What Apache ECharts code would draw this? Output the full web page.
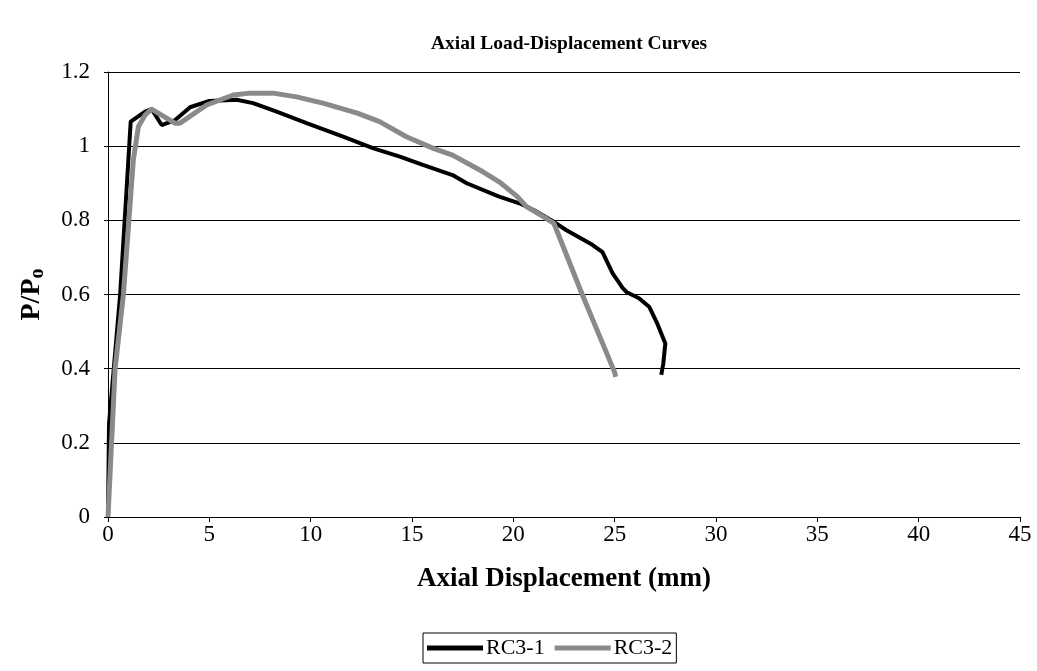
<!DOCTYPE html>
<html>
<head>
<meta charset="utf-8">
<script src="https://cdn.jsdelivr.net/npm/echarts@6/dist/echarts.min.js"></script>
<style>
  html, body { margin: 0; padding: 0; background: #fff; }
  #chart { width: 1037px; height: 671px; }
</style>
</head>
<body>
<div id="chart"></div>
<script>
// RC3-1 (black) displacement (mm) and P/Po
var rc31X = [0, 0.05, 0.6, 1.12, 1.83, 2.15, 2.65, 3.3, 4.05, 5.0, 6.35, 7.16, 8.32, 9.8, 11.6, 13.1, 14.4, 15.5, 17.0, 17.7, 19.3, 20.3, 21.0, 22.0, 22.6, 23.9, 24.4, 24.9, 25.4, 25.6, 26.2, 26.7, 27.1, 27.5, 27.4, 27.3];
var rc31Y = [0, 0.25, 0.6, 1.066, 1.093, 1.1, 1.057, 1.07, 1.105, 1.122, 1.125, 1.116, 1.093, 1.062, 1.026, 0.994, 0.972, 0.95, 0.922, 0.9, 0.864, 0.846, 0.828, 0.796, 0.774, 0.734, 0.714, 0.657, 0.617, 0.606, 0.59, 0.567, 0.522, 0.468, 0.414, 0.383];

// RC3-2 (grey)
var rc32X = [0, 0.35, 0.76, 1.25, 1.5, 1.83, 2.15, 3.3, 3.55, 4.87, 6.18, 7.0, 8.15, 9.3, 10.6, 12.3, 13.4, 14.7, 16.05, 17.0, 18.5, 19.3, 20.2, 20.65, 21.6, 22.0, 23.4, 25.0, 25.05];
var rc32Y = [0, 0.4, 0.6, 0.963, 1.053, 1.084, 1.1, 1.062, 1.062, 1.111, 1.138, 1.143, 1.143, 1.133, 1.116, 1.089, 1.066, 1.026, 0.994, 0.976, 0.931, 0.904, 0.864, 0.837, 0.806, 0.792, 0.6, 0.39, 0.378];

var xTicks = [0, 5, 10, 15, 20, 25, 30, 35, 40, 45];
var yTicks = [0, 0.2, 0.4, 0.6, 0.8, 1, 1.2];

function zip(xs, ys) {
    return xs.map(function (x, i) { return [x, ys[i]]; });
}

var font = 'Liberation Serif';
var chart = echarts.init(document.getElementById('chart'));

chart.setOption({
    animation: false,
    backgroundColor: '#fff',
    title: {
        text: 'Axial Load-Displacement Curves',
        left: 564,
        textAlign: 'center',
        top: 29,
        textStyle: { fontFamily: font, fontWeight: 'bold', fontSize: 19.5, color: '#000' }
    },
    legend: {
        top: 633,
        left: 423,
        data: ['RC3-1', 'RC3-2'],
        icon: 'rect',
        itemWidth: 56,
        itemHeight: 5,
        itemGap: 10,
        borderColor: '#000',
        borderWidth: 1,
        borderRadius: 0,
        padding: [4, 4, 4, 4],
        textStyle: { fontFamily: font, fontSize: 22, color: '#000', padding: [0, 0, 0, -2] }
    },
    grid: { left: 108, right: 17, top: 72, bottom: 154 },
    xAxis: {
        type: 'value',
        min: xTicks[0],
        max: xTicks[xTicks.length - 1],
        interval: 5,
        name: 'Axial Displacement (mm)',
        nameLocation: 'middle',
        nameGap: 49,
        nameTextStyle: { fontFamily: font, fontWeight: 'bold', fontSize: 27, color: '#000' },
        axisLine: { lineStyle: { color: '#000', width: 1 } },
        axisTick: { show: true, length: 5, lineStyle: { color: '#000' } },
        axisLabel: { fontFamily: font, fontSize: 23, color: '#000', margin: 6 },
        splitLine: { show: false }
    },
    yAxis: {
        type: 'value',
        min: yTicks[0],
        max: yTicks[yTicks.length - 1],
        interval: 0.2,
        name: '{a|P/P}{b|o}',
        nameLocation: 'middle',
        nameGap: 60,
        nameTextStyle: {
            rich: {
                a: { fontFamily: font, fontWeight: 'bold', fontSize: 28, color: '#000' },
                b: { fontFamily: font, fontWeight: 'bold', fontSize: 20, color: '#000', padding: [12, 0, 0, 0] }
            }
        },
        axisLine: { show: true, lineStyle: { color: '#000', width: 1 } },
        axisTick: { show: true, length: 4, lineStyle: { color: '#000' } },
        axisLabel: {
            fontFamily: font, fontSize: 23, color: '#000', margin: 18,
            formatter: function (v) { return String(Math.round(v * 10) / 10); }
        },
        splitLine: { show: true, lineStyle: { color: '#000', width: 1 } }
    },
    series: [
        {
            name: 'RC3-1',
            type: 'line',
            data: zip(rc31X, rc31Y),
            showSymbol: false,
            symbol: 'none',
            lineStyle: { color: '#000', width: 4 },
            itemStyle: { color: '#000' },
            z: 2
        },
        {
            name: 'RC3-2',
            type: 'line',
            data: zip(rc32X, rc32Y),
            showSymbol: false,
            symbol: 'none',
            lineStyle: { color: '#8a8a8a', width: 5 },
            itemStyle: { color: '#8a8a8a' },
            z: 3
        }
    ]
});
</script>
</body>
</html>
